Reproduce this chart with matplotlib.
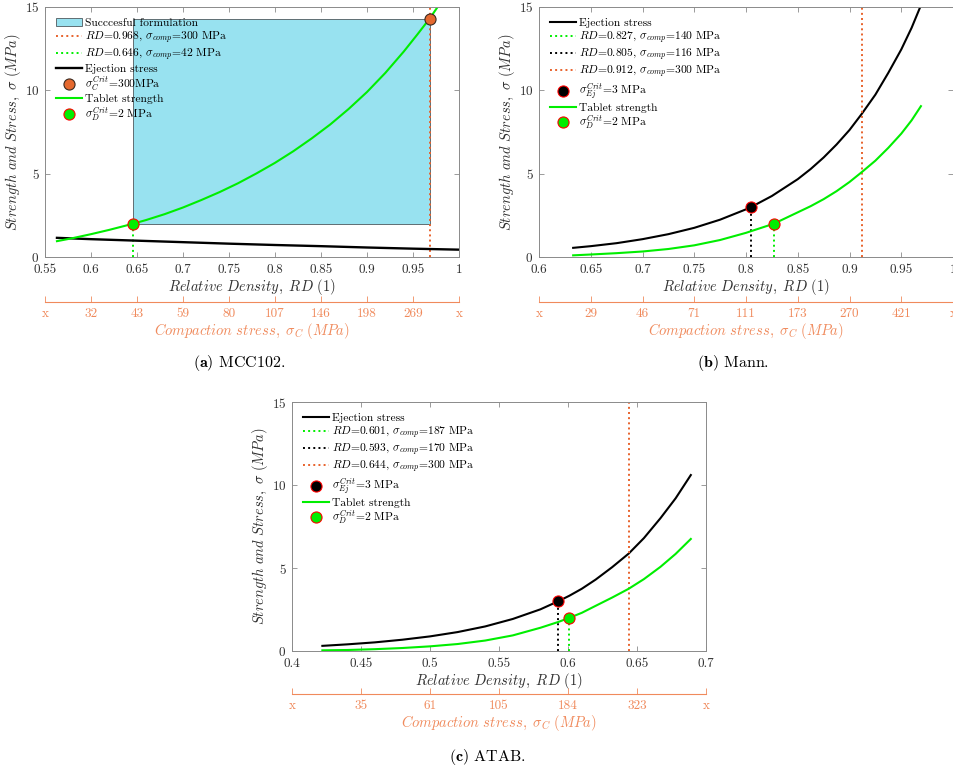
import numpy as np
import matplotlib
matplotlib.use("Agg")
import matplotlib.pyplot as plt
from matplotlib.patches import Rectangle

plt.rcParams["font.family"] = "serif"
plt.rcParams["font.serif"] = ["cmr10"]
plt.rcParams["mathtext.fontset"] = "cm"
plt.rcParams["axes.formatter.use_mathtext"] = True
plt.rcParams["axes.unicode_minus"] = False

GREEN = "#00ee00"
ORANGE_LINE = "#e8622c"
ORANGE_DOT = "#e5692f"
ORANGE_AX = "#f08a5c"
AXIS_GREY = "#8a8a8a"
TEXT_GREY = "#303030"
BOX_FILL = "#98e2f0"

# ---- MCC102 ----
rd_a = [0.563, 0.58, 0.60, 0.62, 0.646, 0.66, 0.68, 0.70, 0.72, 0.74, 0.76, 0.78,
        0.80, 0.82, 0.84, 0.86, 0.88, 0.90, 0.92, 0.94, 0.955, 0.968, 0.978]
strength_a = [0.95, 1.13, 1.37, 1.63, 2.00, 2.22, 2.57, 2.97, 3.42, 3.90, 4.43, 5.02,
              5.65, 6.35, 7.12, 7.95, 8.88, 9.90, 11.05, 12.33, 13.37, 14.30, 15.10]
rd_ej_a = [0.563, 0.60, 0.65, 0.70, 0.75, 0.80, 0.85, 0.90, 0.95, 1.00]
eject_a = [1.15, 1.07, 0.98, 0.89, 0.80, 0.72, 0.65, 0.57, 0.50, 0.44]
rd_lo_a, rd_hi_a = 0.646, 0.968
comp_lo_a, comp_hi_a = 42, 300
crit_d_a = 2.0
crit_c_a = 14.3
ticks_a = [0.55, 0.6, 0.65, 0.7, 0.75, 0.8, 0.85, 0.9, 0.95, 1.0]
comp_labels_a = ["x", "32", "43", "59", "80", "107", "146", "198", "269", "x"]

# ---- Mann ----
rd_b = [0.633, 0.65, 0.675, 0.70, 0.725, 0.75, 0.775, 0.80, 0.805, 0.825, 0.85,
        0.8625, 0.875, 0.8875, 0.90, 0.912, 0.925, 0.9375, 0.95, 0.96, 0.968]
eject_b = [0.55, 0.65, 0.83, 1.07, 1.37, 1.75, 2.24, 2.86, 3.00, 3.66, 4.67,
           5.28, 5.97, 6.75, 7.62, 8.60, 9.74, 11.05, 12.45, 13.75, 14.95]
rd_s_b = [0.633, 0.65, 0.675, 0.70, 0.725, 0.75, 0.775, 0.80, 0.827, 0.85, 0.8625,
          0.875, 0.8875, 0.90, 0.912, 0.925, 0.9375, 0.95, 0.96, 0.969]
strength_b = [0.10, 0.15, 0.23, 0.33, 0.48, 0.70, 1.02, 1.45, 2.00, 2.68, 3.05,
              3.47, 3.95, 4.50, 5.10, 5.78, 6.55, 7.40, 8.20, 9.05]
rd_d_b, comp_d_b = 0.827, 140
rd_ej_b, comp_ej_b = 0.805, 116
rd_max_b, comp_max_b = 0.912, 300
crit_ej_b, crit_d_b = 3.0, 2.0
ticks_b = [0.6, 0.65, 0.7, 0.75, 0.8, 0.85, 0.9, 0.95, 1.0]
comp_labels_b = ["x", "29", "46", "71", "111", "173", "270", "421", "x"]

# ---- ATAB ----
rd_c = [0.422, 0.44, 0.46, 0.48, 0.50, 0.52, 0.54, 0.56, 0.58, 0.593, 0.601,
        0.61, 0.62, 0.632, 0.644, 0.655, 0.667, 0.678, 0.689]
eject_c = [0.31, 0.40, 0.52, 0.68, 0.88, 1.14, 1.48, 1.93, 2.51, 3.00, 3.33,
           3.75, 4.30, 5.05, 5.87, 6.80, 8.00, 9.20, 10.60]
strength_c = [0.04, 0.06, 0.11, 0.18, 0.28, 0.42, 0.63, 0.94, 1.40, 1.75, 2.00,
              2.30, 2.72, 3.22, 3.75, 4.33, 5.07, 5.85, 6.75]
rd_d_c, comp_d_c = 0.601, 187
rd_ej_c, comp_ej_c = 0.593, 170
rd_max_c, comp_max_c = 0.644, 300
crit_ej_c, crit_d_c = 3.0, 2.0
ticks_c = [0.4, 0.45, 0.5, 0.55, 0.6, 0.65, 0.7]
comp_labels_c = ["x", "35", "61", "105", "184", "323", "x"]

W, H = 954, 773
fig = plt.figure(figsize=(W / 100, H / 100), dpi=100)


def fx(px):
    return px / W


def fy(py):
    return 1 - py / H


def style_axes(ax, ticks):
    ax.set_xlim(ticks[0], ticks[-1])
    ax.set_ylim(0, 15)
    ax.set_xticks(ticks)
    ax.set_xticklabels([f"{t:g}" for t in ticks])
    ax.set_yticks([0, 5, 10, 15])
    for s in ax.spines.values():
        s.set_color(AXIS_GREY)
        s.set_linewidth(0.7)
    ax.tick_params(direction="in", top=True, right=True, length=3.5, width=0.6,
                   color=AXIS_GREY, labelcolor=TEXT_GREY, labelsize=9.5)
    ax.tick_params(axis="x", pad=5)
    ax.tick_params(axis="y", pad=4)
    ax.set_xlabel(r"$Relative\ Density,\ RD\ (1)$", fontsize=10.5,
                  color=TEXT_GREY, labelpad=1)
    ax.set_ylabel(r"$Strength\ and\ Stress,\ \sigma\ (MPa)$", fontsize=10.5,
                  color=TEXT_GREY, labelpad=1)


def comp_axis(rect, ticks, labels):
    sec = fig.add_axes(rect)
    sec.set_xlim(ticks[0], ticks[-1])
    sec.set_xticks(ticks)
    sec.set_xticklabels(labels)
    sec.set_yticks([])
    sec.patch.set_visible(False)
    for k in ("left", "right", "top"):
        sec.spines[k].set_visible(False)
    sec.spines["bottom"].set_color(ORANGE_AX)
    sec.spines["bottom"].set_linewidth(0.8)
    sec.tick_params(axis="x", direction="in", length=4, width=0.6,
                    color=ORANGE_AX, labelcolor=ORANGE_AX, labelsize=9.5, pad=4)
    sec.set_xlabel(r"$Compaction\ stress,\ \sigma_C\ (MPa)$", fontsize=10.5,
                   color=ORANGE_AX, labelpad=1)
    return sec


def add_legend(ax):
    ax.legend(loc="upper left", frameon=False, fontsize=8.3, handlelength=2.3,
              handletextpad=0.2, labelspacing=0.08, borderaxespad=0.75,
              borderpad=0.2)


def vline(ax, x, top, color, label):
    ax.plot([x, x], [0, top], ":", color=color, lw=1.4, label=label)


def comp_label(rd, comp):
    return rf"$RD$={rd:.3f}, $\sigma_{{comp}}$={comp} MPa"


# (a) MCC102
ax = fig.add_axes([fx(45), fy(257), fx(414), 250 / H])
box = Rectangle((rd_lo_a, crit_d_a), rd_hi_a - rd_lo_a, crit_c_a - crit_d_a,
                facecolor=BOX_FILL, edgecolor="#5f6d72", lw=0.7,
                label="Succcesful formulation")
ax.add_patch(box)
vline(ax, rd_hi_a, 15, ORANGE_LINE, comp_label(rd_hi_a, comp_hi_a))
vline(ax, rd_lo_a, crit_d_a, GREEN, comp_label(rd_lo_a, comp_lo_a))
ax.plot(rd_ej_a, eject_a, "-", color="black", lw=1.7, label="Ejection stress")
ax.plot(rd_hi_a, crit_c_a, "o", ms=8, mfc=ORANGE_DOT, mec="#3a2a20", mew=0.8,
        label=rf"$\sigma_C^{{Crit}}$={comp_hi_a}MPa", zorder=5)
ax.plot(rd_a, strength_a, "-", color=GREEN, lw=1.5, label="Tablet strength")
ax.plot(rd_lo_a, crit_d_a, "o", ms=8, mfc=GREEN, mec="red", mew=0.8,
        label=rf"$\sigma_D^{{Crit}}$={crit_d_a:g} MPa", zorder=5)
style_axes(ax, ticks_a)
add_legend(ax)
comp_axis([fx(45), fy(302), fx(414), 1e-5], ticks_a, comp_labels_a)
fig.text(fx(239), fy(363), r"$\mathbf{(a)}$ MCC102.", ha="center",
         va="center", fontsize=11.5)


def panel(rect, sec_y, rd_e, ej, rd_s, st, rd_d, comp_d, rd_ej, comp_ej,
          rd_max, comp_max, c_ej, c_d, ticks, labels):
    ax = fig.add_axes(rect)
    ax.plot(rd_e, ej, "-", color="black", lw=1.5, label="Ejection stress")
    vline(ax, rd_d, c_d, GREEN, comp_label(rd_d, comp_d))
    vline(ax, rd_ej, c_ej, "black", comp_label(rd_ej, comp_ej))
    vline(ax, rd_max, 15, ORANGE_LINE, comp_label(rd_max, comp_max))
    ax.plot(rd_ej, c_ej, "o", ms=8, mfc="black", mec="red", mew=0.8,
            label=rf"$\sigma_{{Ej}}^{{Crit}}$={c_ej:g} MPa", zorder=5)
    ax.plot(rd_s, st, "-", color=GREEN, lw=1.5, label="Tablet strength")
    ax.plot(rd_d, c_d, "o", ms=8, mfc=GREEN, mec="red", mew=0.8,
            label=rf"$\sigma_D^{{Crit}}$={c_d:g} MPa", zorder=5)
    style_axes(ax, ticks)
    add_legend(ax)
    comp_axis([rect[0], sec_y, rect[2], 1e-5], ticks, labels)
    return ax


# (b) Mann
panel([fx(539), fy(257), fx(414), 250 / H], fy(302), rd_b, eject_b, rd_s_b,
      strength_b, rd_d_b, comp_d_b, rd_ej_b, comp_ej_b, rd_max_b, comp_max_b,
      crit_ej_b, crit_d_b, ticks_b, comp_labels_b)
fig.text(fx(733), fy(363), r"$\mathbf{(b)}$ Mann.", ha="center",
         va="center", fontsize=11.5)

# (c) ATAB
panel([fx(292), fy(651), fx(414), 249 / H], fy(694), rd_c, eject_c, rd_c,
      strength_c, rd_d_c, comp_d_c, rd_ej_c, comp_ej_c, rd_max_c, comp_max_c,
      crit_ej_c, crit_d_c, ticks_c, comp_labels_c)
fig.text(fx(487), fy(757), r"$\mathbf{(c)}$ ATAB.", ha="center",
         va="center", fontsize=11.5)

fig.savefig("out.png", dpi=100)
